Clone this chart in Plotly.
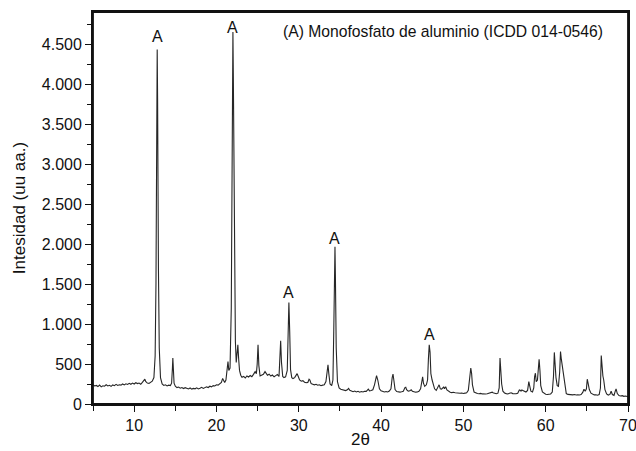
import plotly.graph_objects as go

# 2theta (degrees)
two_theta = [
    5.0, 5.2, 5.4, 5.6, 5.8, 6.0, 6.2, 6.4, 6.6, 6.8, 7.0, 7.2, 7.4, 7.6, 7.8, 8.0, 8.2, 8.4, 8.6, 8.8,
    9.0, 9.2, 9.4, 9.6, 9.8, 10.0, 10.2, 10.4, 10.6, 10.8, 11.0, 11.2, 11.3, 11.4, 11.6, 11.8, 12.0, 12.2,
    12.4, 12.55, 12.65, 12.75, 12.8, 12.85, 12.95, 13.05, 13.2, 13.4, 13.6, 13.8, 14.0, 14.2, 14.4,
    14.55, 14.65, 14.7, 14.75, 14.85, 15.0, 15.2, 15.4, 15.6, 15.8, 16.0, 16.2, 16.4, 16.6, 16.8, 17.0,
    17.2, 17.4, 17.6, 17.8, 18.0, 18.2, 18.4, 18.6, 18.8, 19.0, 19.2, 19.4, 19.6, 19.8, 20.0, 20.2, 20.4,
    20.6, 20.75, 20.85, 21.0, 21.15, 21.3, 21.4, 21.5, 21.65, 21.8, 21.9, 22.0, 22.05, 22.15, 22.25, 22.3,
    22.4, 22.5, 22.6, 22.7, 22.8, 22.95, 23.1, 23.3, 23.5, 23.7, 23.9, 24.1, 24.3, 24.5, 24.7, 24.85,
    24.95, 25.05, 25.15, 25.3, 25.5, 25.7, 25.9, 26.05, 26.2, 26.4, 26.6, 26.8, 27.0, 27.2, 27.4, 27.6,
    27.7, 27.8, 27.9, 28.05, 28.2, 28.4, 28.6, 28.7, 28.8, 28.9, 29.0, 29.15, 29.3, 29.5, 29.7, 29.8,
    29.95, 30.1, 30.3, 30.5, 30.7, 30.9, 31.1, 31.25, 31.35, 31.5, 31.7, 31.9, 32.1, 32.3, 32.5, 32.7,
    32.9, 33.1, 33.3, 33.45, 33.55, 33.65, 33.8, 34.0, 34.15, 34.25, 34.35, 34.4, 34.45, 34.55, 34.7,
    34.9, 35.1, 35.3, 35.5, 35.7, 35.9, 36.05, 36.2, 36.4, 36.6, 36.8, 37.0, 37.2, 37.4, 37.6, 37.8,
    38.0, 38.2, 38.45, 38.6, 38.8, 39.0, 39.2, 39.35, 39.45, 39.6, 39.8, 40.0, 40.2, 40.4, 40.6, 40.8,
    41.0, 41.2, 41.35, 41.45, 41.55, 41.7, 41.9, 42.1, 42.3, 42.5, 42.7, 42.9, 43.0, 43.1, 43.3, 43.5,
    43.65, 43.8, 44.0, 44.2, 44.4, 44.6, 44.8, 44.95, 45.05, 45.15, 45.3, 45.5, 45.65, 45.75, 45.85,
    45.95, 46.05, 46.2, 46.35, 46.5, 46.7, 46.9, 47.05, 47.2, 47.35, 47.5, 47.6, 47.7, 47.85, 48.0,
    48.2, 48.4, 48.6, 48.8, 49.0, 49.2, 49.4, 49.6, 49.8, 50.0, 50.2, 50.4, 50.6, 50.8, 50.9, 51.0,
    51.1, 51.3, 51.5, 51.7, 51.9, 52.1, 52.3, 52.5, 52.7, 52.9, 53.1, 53.3, 53.5, 53.6, 53.8, 54.0,
    54.2, 54.35, 54.45, 54.55, 54.65, 54.8, 55.0, 55.2, 55.4, 55.6, 55.8, 56.0, 56.2, 56.4, 56.6, 56.8,
    56.9, 57.0, 57.1, 57.2, 57.4, 57.6, 57.8, 57.95, 58.05, 58.2, 58.4, 58.55, 58.65, 58.75, 58.85,
    59.0, 59.1, 59.2, 59.3, 59.4, 59.6, 59.8, 60.0, 60.2, 60.4, 60.6, 60.8, 60.95, 61.05, 61.15, 61.25,
    61.4, 61.55, 61.7, 61.8, 61.9, 62.0, 62.1, 62.2, 62.35, 62.5, 62.7, 62.9, 63.1, 63.3, 63.5, 63.7,
    63.9, 64.1, 64.3, 64.5, 64.65, 64.8, 64.95, 65.05, 65.15, 65.3, 65.5, 65.7, 65.9, 66.1, 66.3, 66.5,
    66.65, 66.75, 66.85, 66.95, 67.05, 67.2, 67.4, 67.6, 67.8, 67.95, 68.1, 68.3, 68.45, 68.55, 68.7,
    68.9, 69.1, 69.3, 69.5, 69.7, 69.9, 70.0,
]

# Intensity (arbitrary units)
intensity = [
    240, 225, 232, 218, 236, 214, 228, 222, 240, 226, 234, 220, 238, 229, 245, 232, 241, 236, 250, 238,
    252, 244, 258, 247, 262, 250, 266, 255, 262, 248, 270, 290, 310, 282, 262, 258, 272, 285,
    330, 600, 1500, 3600, 4430, 3800, 1700, 700, 330, 250, 232, 240, 226, 235, 230,
    260, 450, 575, 470, 260, 222, 205, 212, 198, 206, 193, 204, 196, 188, 200, 186,
    195, 190, 202, 188, 196, 208, 194, 203, 214, 206, 222, 214, 230, 226, 240, 236, 252,
    270, 320, 300, 268, 300, 420, 530, 420, 450, 1200, 3200, 4650, 4100, 2000, 900, 780,
    520, 700, 740, 560, 420, 360, 335, 345, 325, 350, 338, 356, 342, 370, 405, 380,
    500, 740, 480, 350, 362, 372, 405, 385, 360, 372, 350, 362, 340, 355, 368, 345,
    500, 790, 520, 345, 330, 340, 420, 900, 1270, 900, 430, 330, 318, 330, 360, 380,
    340, 300, 285, 292, 272, 266, 270, 310, 300, 255, 248, 240, 246, 234, 240, 228,
    236, 240, 280, 420, 490, 380, 250, 230, 300, 900, 1700, 1965, 1600, 700, 280,
    200, 185, 176, 170, 168, 178, 195, 172, 160, 154, 162, 150, 158, 148, 156, 150,
    160, 158, 185, 165, 168, 178, 240, 330, 355, 300, 190, 165, 158, 150, 156, 150,
    162, 190, 330, 375, 300, 180, 155, 150, 148, 152, 160, 205, 210, 180, 160, 165,
    178, 160, 150, 148, 150, 158, 190, 300, 340, 260, 220, 240, 300, 560, 740,
    650, 380, 300, 250, 190, 170, 210, 240, 190, 185, 200, 215, 190, 215, 175,
    155, 148, 142, 146, 140, 136, 140, 135, 138, 132, 136, 140, 170, 330, 450, 380,
    240, 150, 138, 132, 128, 132, 126, 130, 125, 128, 134, 136, 148, 140, 130, 128,
    135, 200, 575, 420, 250, 160, 138, 130, 126, 134, 140, 130, 126, 128, 135, 175,
    172, 160, 175, 168, 155, 150, 170, 280, 230, 160, 150, 200, 340, 385, 280,
    300, 430, 560, 420, 230, 150, 130, 122, 118, 122, 126, 150, 350, 645, 400, 330,
    230, 220, 400, 655, 560, 480, 450, 300, 180, 130, 120, 116, 120, 114, 118, 112,
    116, 112, 118, 145, 185, 160, 190, 310, 260, 180, 135, 120, 114, 116, 110, 118,
    200, 605, 450, 350, 300, 180, 125, 112, 120, 160, 118, 108, 160, 188, 130,
    105, 100, 104, 96, 100, 94, 96,
]

# Peak labels (phase A)
label_x = [12.85, 21.95, 28.8, 34.4, 45.9]
label_y = [4590, 4710, 1390, 2075, 875]
label_text = ["A", "A", "A", "A", "A"]

fig = go.Figure()
fig.add_trace(go.Scatter(
    x=two_theta, y=intensity, mode="lines",
    line=dict(color="#262626", width=1.1),
    showlegend=False, hoverinfo="skip",
))

for lx, ly, lt in zip(label_x, label_y, label_text):
    fig.add_annotation(x=lx, y=ly, text=lt, showarrow=False,
                       font=dict(size=16, color="#111"), xanchor="center", yanchor="middle")

fig.add_annotation(x=0.957, y=0.977, xref="paper", yref="paper",
                   text="(A) Monofosfato de aluminio (ICDD 014-0546)",
                   showarrow=False, xanchor="right", yanchor="top",
                   font=dict(size=15.7, color="#111"))

# frame around the plotting area
fig.add_shape(type="rect", xref="paper", yref="paper", x0=0, x1=1, y0=0, y1=1,
              line=dict(color="#111", width=1.8), layer="above")

axis_font = dict(family="Liberation Sans, Arial, sans-serif", size=16, color="#111")

fig.update_layout(
    width=636, height=451,
    margin=dict(l=93, r=8, t=12, b=47),
    paper_bgcolor="white", plot_bgcolor="white",
    separators=",.",
    font=dict(family="Liberation Sans, Arial, sans-serif", color="#111"),
    xaxis=dict(
        range=[5, 70], tick0=10, dtick=10, ticks="outside", ticklen=6, tickwidth=1.2,
        tickcolor="#111", showline=True, linecolor="#111", linewidth=1.8, mirror=True,
        showgrid=False, zeroline=False, tickfont=axis_font, automargin=False,
        ticklabeloverflow="allow",
        minor=dict(dtick=5, ticks="outside", ticklen=5, tickwidth=1.2, tickcolor="#111"),
        title=dict(text="2θ", font=dict(size=17, color="#111"), standoff=0),
    ),
    yaxis=dict(
        range=[0, 4900], tick0=0, dtick=500, ticks="outside", ticklen=6, tickwidth=1.2,
        tickcolor="#111", showline=True, linecolor="#111", linewidth=1.8, mirror=True,
        showgrid=False, zeroline=False, tickfont=axis_font, tickformat=",d", automargin=False,
        minor=dict(dtick=250, ticks="outside", ticklen=4, tickwidth=1.2, tickcolor="#111"),
        title=dict(text="Intesidad (uu aa.)", font=dict(size=17, color="#111"), standoff=12),
    ),
)

fig.write_html("out.html")
